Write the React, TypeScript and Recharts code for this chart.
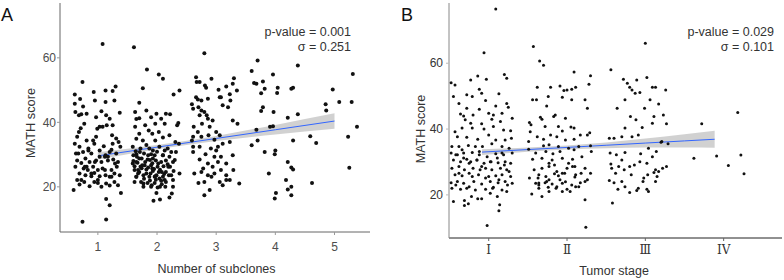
import React from 'react';
import { ComposedChart, Scatter, Line, Area, XAxis, YAxis } from 'recharts';

type P = [number, number];

// Panel A: MATH score by number of subclones (jittered x)
const subclones1: P[] = [[1.08,64.3],[0.74,52.5],[0.61,48.6],[0.70,47.2],[0.93,49.4],[0.95,46.8],[1.13,49.9],[1.25,49.7],[1.30,51.1],[1.28,46.8],[1.13,46.3],[1.06,43.4],[1.14,42.2],[0.62,43.2],[0.68,42.2],[0.72,42.5],[0.81,42.7],[0.97,41.6],[1.20,41.1],[1.37,43.0],[0.71,38.2],[0.68,37.0],[0.99,38.0],[1.03,38.6],[1.08,38.6],[1.15,39.1],[1.25,39.1],[0.65,35.5],[0.81,34.4],[0.97,35.5],[1.24,36.0],[1.31,35.0],[0.61,33.4],[0.69,32.4],[0.84,31.9],[0.94,33.4],[1.10,32.6],[1.25,33.4],[1.35,33.9],[1.38,32.4],[0.63,30.3],[0.75,30.8],[0.89,30.3],[1.03,31.3],[1.13,29.8],[1.20,30.8],[1.31,30.3],[0.65,28.2],[0.72,27.4],[0.79,28.8],[0.86,27.7],[0.97,28.2],[1.06,27.7],[1.17,28.2],[1.26,28.5],[1.34,27.7],[0.62,26.2],[0.76,25.7],[0.83,25.2],[0.92,26.2],[1.00,25.2],[1.08,25.7],[1.23,25.2],[1.32,26.2],[0.69,24.1],[0.79,23.6],[0.89,23.3],[1.03,23.3],[1.13,23.6],[1.20,23.1],[1.28,24.1],[1.37,23.6],[0.65,22.1],[0.77,21.5],[0.94,21.5],[1.00,21.2],[1.14,21.0],[1.28,21.5],[0.69,20.7],[0.86,20.2],[1.20,20.4],[1.34,20.5],[1.39,18.1],[0.59,19.0],[1.14,16.2],[1.20,14.3],[0.74,9.2],[1.14,9.9],[1.23,31.5],[1.12,29.3],[0.92,34.4],[0.77,39.6],[0.75,44.9],[0.61,45.8],[1.03,29.3],[0.94,24.3],[0.81,26.2],[0.67,30.3],[0.78,26.2],[0.89,24.1],[1.00,22.1],[1.12,25.2],[1.23,23.1],[1.29,27.2],[0.72,22.1],[0.95,27.7],[1.17,29.3],[0.84,31.3],[1.06,20.0]];
const subclones2: P[] = [[1.61,63.3],[1.83,56.4],[2.03,54.8],[2.10,53.5],[1.76,50.6],[2.38,49.9],[2.28,48.6],[1.70,46.1],[1.82,43.7],[1.63,43.2],[1.99,42.7],[2.15,42.7],[2.22,42.5],[1.90,41.6],[1.65,41.0],[1.70,41.3],[2.07,41.1],[1.80,39.1],[1.97,39.6],[2.13,39.6],[2.34,39.1],[2.36,39.8],[1.63,38.6],[1.86,37.5],[2.03,37.0],[1.70,36.5],[1.92,36.5],[2.21,36.0],[2.10,35.3],[1.65,34.9],[1.76,34.4],[1.97,34.4],[2.31,33.9],[2.37,33.4],[1.59,32.4],[1.72,31.9],[1.87,31.9],[2.04,32.4],[2.18,31.9],[2.32,30.8],[1.65,30.1],[1.78,30.3],[1.90,30.1],[1.96,29.8],[2.10,29.8],[2.21,29.3],[1.70,28.8],[1.84,28.5],[1.98,28.2],[2.07,27.7],[2.15,28.2],[2.27,27.7],[1.59,27.2],[1.62,26.4],[1.75,26.7],[1.90,26.7],[2.01,26.2],[2.11,26.4],[2.22,26.2],[1.62,25.2],[1.70,24.6],[1.82,25.4],[1.93,24.9],[2.03,24.6],[2.15,24.6],[2.28,24.9],[1.65,23.1],[1.77,23.6],[1.87,23.1],[1.97,23.3],[2.10,23.1],[2.20,23.6],[2.38,24.1],[1.62,21.5],[1.73,21.5],[1.84,21.2],[1.96,21.2],[2.07,21.9],[2.15,21.5],[2.27,22.1],[1.77,20.0],[1.90,20.0],[2.01,19.8],[2.14,20.0],[2.27,20.0],[1.99,18.1],[2.25,17.9],[2.21,16.7],[1.94,15.7],[2.05,16.1],[1.68,24.1],[1.80,27.7],[1.93,28.8],[2.13,31.3],[2.24,30.8],[1.66,29.3],[1.89,24.1],[2.04,22.6],[1.72,26.2],[1.60,28.0],[1.67,27.5],[1.74,25.8],[1.85,26.0],[1.95,25.5],[2.05,25.3],[2.12,24.0],[2.18,27.0],[1.78,22.5],[1.88,22.0],[1.98,22.2],[2.08,20.8],[1.64,31.0],[1.82,33.0],[2.00,30.9],[1.92,27.3],[1.60,29.8],[1.65,27.7],[1.68,25.2],[1.74,28.8],[1.79,26.7],[1.82,24.1],[1.88,28.3],[1.92,25.7],[1.96,23.1],[2.02,27.2],[2.08,24.6],[2.13,22.1],[2.19,26.2],[2.24,23.6],[1.77,21.0],[1.91,20.5],[2.05,20.0],[1.71,30.8],[1.93,31.3],[2.10,29.8],[2.30,28.3],[1.65,23.1],[1.85,29.8],[1.99,23.6]];
const subclones3: P[] = [[2.80,61.4],[2.92,53.5],[2.66,54.0],[2.67,52.5],[2.72,52.5],[2.81,51.4],[2.83,50.7],[2.59,45.6],[2.61,44.2],[2.66,47.8],[2.69,47.1],[2.75,46.8],[2.86,47.3],[3.04,50.1],[3.06,47.8],[3.08,47.8],[3.17,51.1],[3.28,52.0],[3.30,53.7],[3.35,49.9],[3.23,48.7],[2.70,44.7],[2.75,43.7],[2.80,43.2],[2.84,42.2],[3.20,44.7],[3.11,45.3],[2.72,42.2],[2.76,39.6],[2.86,41.1],[2.62,38.6],[2.69,37.0],[2.89,38.6],[3.00,37.0],[3.28,40.6],[3.36,39.6],[3.06,36.0],[2.97,34.6],[2.87,36.0],[2.75,35.5],[2.61,35.5],[3.11,33.4],[3.23,33.9],[3.03,32.4],[2.91,31.9],[2.72,32.4],[2.61,30.8],[2.82,30.1],[2.97,29.3],[3.08,29.3],[3.28,29.8],[2.72,28.5],[2.86,27.2],[3.03,27.7],[3.17,27.2],[2.78,25.7],[2.94,26.2],[3.08,25.2],[3.29,25.2],[2.63,24.1],[2.75,24.6],[2.86,23.6],[2.97,24.1],[3.17,23.6],[2.70,21.2],[2.80,21.5],[2.92,23.1],[3.06,21.5],[3.17,22.1],[3.39,21.0],[2.89,19.0],[2.80,17.4],[3.11,20.5],[3.23,22.1],[2.59,34.4],[2.94,40.6],[3.24,46.8],[2.61,32.4],[3.00,31.3]];
const subclones4: P[] = [[3.60,55.9],[3.70,59.2],[3.64,52.2],[3.68,52.0],[3.79,52.7],[3.82,50.4],[3.76,49.0],[3.76,43.5],[3.79,44.7],[3.96,54.8],[4.04,50.7],[4.03,49.1],[4.27,50.4],[4.30,50.7],[4.38,57.6],[4.38,42.5],[4.21,41.4],[3.97,43.2],[3.68,37.7],[3.96,38.8],[3.91,38.6],[3.60,32.9],[3.82,30.8],[4.00,31.3],[3.99,30.1],[4.30,34.4],[3.89,24.1],[4.21,27.7],[4.27,26.0],[4.30,25.4],[4.18,22.1],[4.21,19.2],[4.27,20.0],[4.01,18.1],[3.99,16.4],[4.27,17.4],[3.70,34.4]];
const subclones5: P[] = [[4.59,35.7],[4.69,33.6],[4.62,21.2],[4.85,45.6],[4.86,43.7],[4.97,50.2],[5.08,46.3],[5.31,55.0],[5.29,46.3],[5.38,38.6],[5.23,35.5],[5.25,25.9]];

// Panel A fitted line with confidence band
const fitXA = [1, 2, 3, 4, 5];
const fitYA = [29.6, 32.3, 35.0, 37.7, 40.4];
const fitLoA = [28.5, 31.65, 34.2, 36.2, 38.0];
const fitHiA = [30.7, 32.95, 35.8, 39.2, 42.8];
const ticksXA = [1, 2, 3, 4, 5];

// Panel B: MATH score by tumor stage (jittered x)
const stage1: P[] = [[1.09,76.5],[0.94,63.2],[0.98,10.7],[1.14,17.0],[1.13,15.2],[0.55,18.0],[0.69,18.3],[0.69,16.8],[0.74,17.3],[0.86,18.8],[0.91,18.8],[0.52,54.1],[0.57,53.4],[0.55,49.9],[0.77,54.9],[0.86,56.1],[0.97,55.1],[1.20,56.6],[1.23,55.4],[1.13,50.7],[1.23,47.8],[1.25,46.6],[0.88,52.1],[0.91,50.9],[0.72,50.4],[0.64,44.6],[0.68,44.0],[0.80,44.3],[0.88,46.0],[1.00,44.8],[1.06,44.3],[1.09,47.0],[0.70,42.8],[0.77,41.8],[0.91,41.6],[1.04,43.0],[1.15,42.3],[0.57,39.2],[0.66,40.3],[0.79,40.3],[0.94,40.0],[1.06,40.8],[1.19,39.7],[1.28,39.5],[0.60,37.7],[0.72,37.5],[0.86,36.9],[1.00,38.2],[1.09,36.7],[1.21,36.7],[1.29,37.2],[0.53,34.7],[0.62,34.7],[0.74,35.0],[0.83,34.7],[0.92,34.7],[1.04,35.5],[1.17,34.7],[1.26,34.2],[0.52,32.7],[0.60,32.2],[0.68,32.7],[0.79,32.9],[0.88,32.2],[0.98,31.6],[1.09,32.5],[1.19,32.2],[1.30,32.7],[0.55,30.6],[0.64,30.1],[0.72,30.8],[0.77,30.1],[0.85,30.6],[0.94,29.6],[1.02,30.1],[1.12,29.8],[1.21,30.1],[1.28,29.6],[0.53,28.1],[0.62,28.6],[0.69,27.6],[0.80,28.1],[0.89,27.6],[0.96,28.1],[1.04,27.6],[1.15,28.1],[1.23,27.6],[0.57,26.1],[0.66,25.8],[0.75,26.6],[0.87,26.1],[1.00,25.6],[1.09,25.8],[1.17,26.1],[1.28,25.6],[0.52,23.7],[0.60,24.1],[0.68,23.5],[0.81,24.1],[0.91,23.3],[1.02,24.1],[1.12,23.7],[1.21,24.1],[1.30,23.5],[0.53,22.0],[0.64,21.7],[0.72,22.0],[0.83,21.5],[0.96,21.7],[1.06,22.3],[1.17,21.5],[1.23,21.0],[0.78,19.5],[1.02,20.5],[1.11,19.5],[0.62,47.8],[0.72,46.3],[0.79,49.9],[0.96,48.7],[1.17,44.8],[1.30,43.3],[0.58,32.2],[0.68,31.2],[0.75,29.6],[0.85,30.6],[0.91,28.6],[1.03,30.1],[1.11,31.2],[1.20,29.1],[1.26,27.1],[0.62,26.6],[0.79,25.6],[0.96,25.1],[1.13,24.6],[0.58,23.0],[0.75,22.5],[1.05,22.0],[1.24,23.0],[0.66,33.7],[0.88,33.2],[1.17,32.7]];
const stage2: P[] = [[1.57,65.1],[1.65,60.7],[1.70,59.4],[2.09,57.3],[2.30,56.2],[1.62,52.7],[1.61,48.9],[1.56,48.9],[1.76,49.9],[1.79,52.7],[1.91,53.1],[1.96,51.7],[2.00,51.9],[2.06,52.1],[2.11,52.7],[1.94,49.7],[2.06,48.9],[2.23,48.9],[2.26,46.3],[2.28,53.6],[1.74,47.0],[1.83,43.8],[1.85,44.3],[1.66,43.6],[1.68,43.0],[1.98,43.3],[1.52,42.0],[1.54,41.3],[1.72,40.8],[1.89,40.8],[2.05,40.6],[2.09,40.3],[1.94,39.4],[1.53,39.2],[1.62,37.7],[1.79,38.2],[2.17,38.2],[2.26,38.2],[2.29,38.9],[1.87,37.7],[1.51,36.2],[1.70,36.9],[1.98,36.7],[2.09,36.9],[1.77,35.2],[1.70,34.9],[1.89,34.7],[2.02,34.2],[2.15,34.7],[2.30,34.9],[1.51,33.9],[1.60,32.7],[1.73,33.2],[1.82,32.5],[1.91,33.2],[2.09,33.7],[2.31,33.2],[1.56,30.8],[1.68,31.1],[1.81,30.6],[1.94,31.1],[2.07,30.8],[2.19,31.6],[1.68,28.1],[1.77,28.6],[1.87,27.1],[2.00,28.1],[2.10,28.6],[2.23,28.1],[1.64,26.1],[1.84,26.4],[1.89,25.8],[1.97,26.6],[2.11,26.1],[2.18,26.6],[2.30,26.6],[1.52,25.1],[1.63,25.1],[1.77,24.6],[1.91,24.6],[2.10,25.4],[2.26,24.6],[1.60,23.5],[1.64,23.0],[1.72,23.7],[1.81,23.3],[1.94,23.5],[2.06,23.0],[2.17,23.7],[2.23,24.1],[1.64,22.0],[1.76,22.3],[1.87,22.5],[2.00,21.7],[2.15,22.5],[1.55,20.3],[1.68,19.5],[1.77,21.0],[1.94,21.0],[2.04,21.0],[2.23,18.5],[2.24,10.2],[1.74,24.1],[1.84,29.1],[2.02,29.6],[1.58,27.6],[1.64,23.6],[1.73,25.6],[1.77,29.6],[1.86,22.0],[1.94,26.6],[1.98,24.0],[2.07,28.6],[2.11,22.5]];
const stage3: P[] = [[3.00,66.1],[2.56,58.0],[2.72,55.1],[2.77,53.9],[3.02,55.7],[2.89,54.9],[2.80,52.7],[2.83,51.9],[2.87,50.9],[2.93,51.1],[3.09,52.7],[3.13,52.7],[3.26,51.9],[3.06,48.9],[2.74,48.9],[3.17,47.6],[2.64,46.3],[3.11,43.8],[3.23,44.3],[2.81,43.8],[2.88,42.8],[3.09,41.8],[3.27,41.6],[2.74,40.3],[2.96,40.5],[2.83,37.7],[2.91,38.2],[2.70,37.7],[2.54,37.2],[2.60,37.2],[3.20,36.0],[3.29,35.5],[3.04,34.2],[2.55,32.7],[2.63,32.2],[2.74,32.9],[2.94,32.5],[3.14,33.2],[3.09,31.6],[2.70,30.6],[2.93,30.1],[3.02,29.6],[2.56,29.4],[2.80,28.6],[2.86,29.1],[2.66,28.6],[3.27,28.6],[3.22,28.1],[2.57,28.1],[2.73,27.6],[3.13,27.6],[3.11,26.8],[3.17,27.1],[2.62,26.6],[2.82,26.1],[3.03,26.1],[3.15,25.6],[2.98,25.1],[2.54,24.4],[2.70,24.1],[2.97,24.1],[3.13,24.1],[2.60,23.7],[2.65,21.7],[2.74,22.5],[2.80,20.7],[2.89,21.3],[2.91,22.0],[3.02,21.7],[3.04,21.0],[2.58,17.5],[2.99,46.3],[3.21,36.2]];
const stage4: P[] = [[3.72,41.6],[3.62,31.1],[3.91,31.8],[4.06,28.9],[4.18,45.0],[4.22,32.1],[4.26,26.4]];

// Panel B fitted line with confidence band
const fitXB = [0.915, 1.5, 2, 2.5, 3, 3.5, 3.885];
const fitYB = [33.0, 33.77, 34.42, 35.08, 35.74, 36.4, 36.9];
const fitLoB = [32.15, 33.1, 33.8, 34.2, 34.4, 34.4, 34.3];
const fitHiB = [33.85, 34.4, 35.0, 35.9, 37.1, 38.4, 39.5];
const ticksXB = [1, 2, 3, 4];
const stageLabels = ['Ⅰ', 'Ⅱ', 'Ⅲ', 'IV'];

const ticksY = [20, 40, 60];

const toPts = (arr: P[]) => arr.map(([x, y]) => ({ x, y }));
const pointsA = toPts([...subclones1, ...subclones2, ...subclones3, ...subclones4, ...subclones5]);
const pointsB = toPts([...stage1, ...stage2, ...stage3, ...stage4]);
const bandA = fitXA.map((x, i) => ({ x, fit: fitYA[i], band: [fitLoA[i], fitHiA[i]] }));
const bandB = fitXB.map((x, i) => ({ x, fit: fitYB[i], band: [fitLoB[i], fitHiB[i]] }));

const FONT = '"Liberation Sans", Arial, sans-serif';

const dot = (r: number) => (props: any) => (
  <circle cx={props.cx} cy={props.cy} r={r} fill="#111" />
);

export default function App() {
  return (
    <div style={{ position: 'absolute', left: 0, top: 0, width: 784, height: 280, background: '#fff', overflow: 'hidden' }}>
      <div style={{ position: 'absolute', left: 0, top: 0 }}>
        <ComposedChart width={392} height={280} data={bandA} margin={{ top: 3, right: 22, bottom: 8, left: 0 }}>
          <XAxis type="number" dataKey="x" domain={[0.36, 5.6]} allowDataOverflow ticks={ticksXA} height={40}
            tickSize={3} tickMargin={7.5} axisLine={{ stroke: '#666' }} tickLine={{ stroke: '#999' }}
            tick={{ fill: '#4d4d4d', fontSize: 12, fontFamily: FONT }} />
          <YAxis type="number" dataKey="y" domain={[6, 77]} allowDataOverflow ticks={ticksY} width={60}
            tickSize={3} tickMargin={1} axisLine={{ stroke: '#666' }} tickLine={{ stroke: '#999' }}
            tick={{ fill: '#4d4d4d', fontSize: 12, fontFamily: FONT }} />
          <Scatter data={pointsA} shape={dot(2)} isAnimationActive={false} />
          <Area dataKey="band" type="monotone" stroke="none" fill="#999" fillOpacity={0.45} isAnimationActive={false} />
          <Line dataKey="fit" type="linear" stroke="#3366FF" strokeWidth={1} dot={false} activeDot={false} isAnimationActive={false} />
        </ComposedChart>
      </div>
      <div style={{ position: 'absolute', left: 392, top: 0 }}>
        <ComposedChart width={392} height={280} data={bandB} margin={{ top: 3, right: 2, bottom: 6, left: 0 }}>
          <XAxis type="number" dataKey="x" domain={[0.493, 4.745]} allowDataOverflow ticks={ticksXB} height={36}
            tickSize={3} tickMargin={4} axisLine={{ stroke: '#222' }} tickLine={{ stroke: '#666' }}
            tickFormatter={(v: number) => stageLabels[v - 1]}
            tick={{ fill: '#333', fontSize: 12, fontFamily: '"DejaVu Serif", "Liberation Serif", serif' }} />
          <YAxis type="number" dataKey="y" domain={[6.9, 78.3]} allowDataOverflow ticks={ticksY} width={57}
            tickSize={3} tickMargin={3} axisLine={{ stroke: '#888' }} tickLine={{ stroke: '#bbb' }}
            tick={{ fill: '#333', fontSize: 12, fontFamily: FONT }} />
          <Scatter data={pointsB} shape={dot(1.5)} isAnimationActive={false} />
          <Area dataKey="band" type="monotone" stroke="none" fill="#999" fillOpacity={0.45} isAnimationActive={false} />
          <Line dataKey="fit" type="linear" stroke="#3366FF" strokeWidth={1} dot={false} activeDot={false} isAnimationActive={false} />
        </ComposedChart>
      </div>
      <svg width={784} height={280} style={{ position: 'absolute', left: 0, top: 0, pointerEvents: 'none' }} fontFamily={FONT}>
        <text x={1} y={21} fontSize={18} fill="#111">A</text>
        <text x={401} y={21} fontSize={18} fill="#111">B</text>
        <text x={351} y={36} fontSize={12.5} fill="#333" textAnchor="end">p-value = 0.001</text>
        <text x={351} y={50.5} fontSize={12.5} fill="#333" textAnchor="end">σ = 0.251</text>
        <text x={774} y={36} fontSize={12.5} fill="#333" textAnchor="end">p-value = 0.029</text>
        <text x={774} y={50.5} fontSize={12.5} fill="#333" textAnchor="end">σ = 0.101</text>
        <text transform="translate(35,123) rotate(-90)" fontSize={12.8} fill="#333" textAnchor="middle">MATH score</text>
        <text transform="translate(425,129) rotate(-90)" fontSize={12.5} fill="#333" textAnchor="middle">MATH score</text>
        <text x={216.5} y={273} fontSize={12.5} fill="#333" textAnchor="middle">Number of subclones</text>
        <text x={614} y={274.5} fontSize={12.5} fill="#333" textAnchor="middle">Tumor stage</text>
      </svg>
    </div>
  );
}
